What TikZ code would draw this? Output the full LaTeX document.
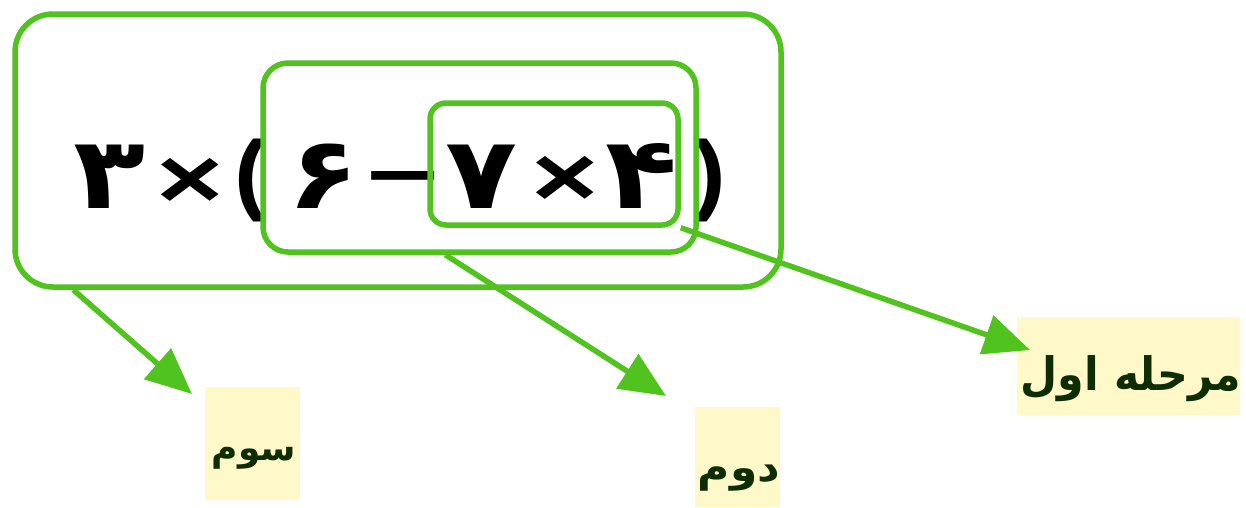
\documentclass[tikz,border=0pt]{standalone}
\usepackage{fontspec}
\usepackage{graphicx}
\usetikzlibrary{arrows.meta,calc}
\TeXXeTstate=1
\newfontfamily\arabicfont[Script=Arabic]{DejaVu Sans}
\newfontfamily\digfont{DejaVu Sans}
\newfontfamily\opfont{Liberation Sans}
\definecolor{lgreen}{RGB}{80,195,30}
\definecolor{lyellow}{RGB}{255,248,200}
\definecolor{ltext}{RGB}{15,45,5}
\newcommand{\gl}[3]{\fontsize{#2}{#2}\selectfont\scalebox{#1}[1]{#3}}
\begin{document}
\begin{tikzpicture}[x=1pt,y=-1pt,
  box/.style={draw=lgreen, line width=5.5pt, rectangle, inner sep=0pt},
  digit/.style={inner sep=0pt, anchor=base, font=\digfont\bfseries, text=black},
  oper/.style={inner sep=0pt, anchor=base, font=\opfont\bfseries, text=black},
  conn/.style={draw=lgreen, line width=5.5pt, -{Triangle[length=46pt,width=40pt]}},
  ybox/.style={fill=lyellow, inner sep=0pt},
  lbl/.style={inner sep=0pt, font=\arabicfont\bfseries, text=ltext}]
\useasboundingbox (0,0) rectangle (1246,507);
% label backgrounds
\node[ybox, minimum width=95pt, minimum height=113pt] (y1) at (252.5,443.5) {};
\node[ybox, minimum width=85pt, minimum height=100pt] (y2) at (737.5,457) {};
\node[ybox, minimum width=223pt, minimum height=98pt] (y3) at (1128.5,366) {};
% labels
\node[lbl] (l1) at (254,458) {\gl{1.0}{36}{\beginR سوم\endR}};
\node[lbl] (l2) at (739,478) {\gl{1.1}{40}{\beginR دوم\endR}};
\node[lbl] (l3) at (1131,379) {\gl{0.93}{46}{\beginR مرحله اول\endR}};
% expression
\node[digit] (g1) at (110,208) {\gl{1.18}{100}{۳}};
\node[oper]  (g2) at (190,208) {\gl{1.34}{86}{×}};
\node[oper]  (g3) at (251,203) {\gl{1.1}{89}{(}};
\node[digit] (g4) at (324,208) {\gl{1.18}{100}{۶}};
\node[oper]  (g5) at (403,202) {\gl{1.56}{80}{−}};
\node[digit] (g6) at (482,208) {\gl{1.18}{100}{۷}};
\node[oper]  (g7) at (565,206) {\gl{1.34}{86}{×}};
\node[digit] (g8) at (642,208) {\gl{1.18}{100}{۴}};
\node[oper]  (g9) at (710,203) {\gl{1.1}{89}{)}};
% boxes
\node[box, rounded corners=38pt, minimum width=766pt, minimum height=273pt] (outer) at (398,150.5) {};
\node[box, rounded corners=25pt, minimum width=433pt, minimum height=189pt] (middle) at (479.5,157.5) {};
\node[box, rounded corners=16pt, minimum width=248pt, minimum height=122pt] (inner) at (554,164) {};
% arrow ends
\coordinate (t1) at (192,394);
\coordinate (t2) at (666,396);
\coordinate (t3) at (1030,350);
\draw[conn] ($(outer.south west)+(61,0)$) -- (t1);
\draw[conn] ($(middle.south west)+(185,0)$) -- (t2);
\draw[conn] (inner.south east) -- (t3);
\end{tikzpicture}
\end{document}
